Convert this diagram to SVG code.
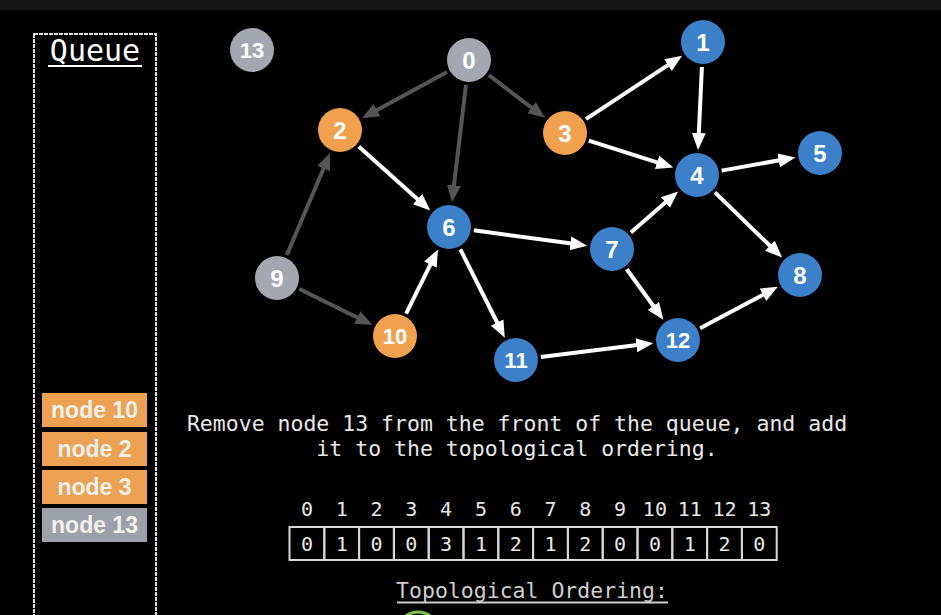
<svg xmlns="http://www.w3.org/2000/svg" width="941" height="615" viewBox="0 0 941 615">
<style>
.bg{fill:#000}
.n circle{stroke:none}
.blue{fill:#3b80c9}
.orange{fill:#f0a04f}
.gray{fill:#a3a8b0}
.nt{font-family:"Liberation Sans",Arial,sans-serif;font-weight:bold;fill:#fff;text-anchor:middle}
.e1{stroke:#fff;stroke-width:4;fill:none}
.e0{stroke:#555;stroke-width:4;fill:none}
.mono{font-family:"DejaVu Sans Mono",monospace;fill:#e8e8e8;text-anchor:middle}
.qi text{font-family:"Liberation Sans",Arial,sans-serif;font-weight:bold;font-size:23px;fill:#f4f0ea;text-anchor:middle}
.cell{fill:none;stroke:#d8d8d8;stroke-width:2}
</style>
<defs>
<marker id="aw" markerUnits="userSpaceOnUse" markerWidth="18" markerHeight="16" refX="5" refY="8" orient="auto"><path d="M0,1 L17,8 L0,15 z" fill="#fff"/></marker>
<marker id="ag" markerUnits="userSpaceOnUse" markerWidth="18" markerHeight="16" refX="5" refY="8" orient="auto"><path d="M0,1 L17,8 L0,15 z" fill="#555"/></marker>
</defs>
<rect class="bg" x="0" y="0" width="941" height="615"/>
<rect x="0" y="0" width="941" height="10" fill="#151515"/>

<g id="queue">
<rect x="34" y="34" width="122" height="600" fill="none" stroke="#e0e0e0" stroke-width="2" stroke-dasharray="4 1"/>
<text class="mono" x="95" y="61" font-size="30" style="fill:#fff">Queue</text>
<line x1="48" y1="66" x2="142" y2="66" stroke="#fff" stroke-width="2"/>
<g class="qi" id="q10"><rect x="42" y="393" width="105" height="34" fill="#eba052"/><text x="94.5" y="418">node 10</text></g>
<g class="qi" id="q2"><rect x="42" y="432" width="105" height="34" fill="#eba052"/><text x="94.5" y="457">node 2</text></g>
<g class="qi" id="q3"><rect x="42" y="470" width="105" height="34" fill="#eba052"/><text x="94.5" y="495">node 3</text></g>
<g class="qi" id="q13"><rect x="42" y="508" width="105" height="34" fill="#9ca1a9"/><text x="94.5" y="533">node 13</text></g>
</g>

<g id="connectors">
<line class="e0" x1="447" y1="71.9" x2="372.5" y2="112.4" marker-end="url(#ag)"/>
<line class="e0" x1="466" y1="84.8" x2="453.4" y2="190.3" marker-end="url(#ag)"/>
<line class="e0" x1="488.9" y1="75.1" x2="535.5" y2="110.6" marker-end="url(#ag)"/>
<line class="e0" x1="286.8" y1="255" x2="325.5" y2="164" marker-end="url(#ag)"/>
<line class="e0" x1="299.4" y1="289" x2="361.8" y2="319.7" marker-end="url(#ag)"/>
<line class="e1" x1="585.9" y1="119.2" x2="672.1" y2="62.4" marker-end="url(#aw)"/>
<line class="e1" x1="588.8" y1="140.6" x2="661.8" y2="163.8" marker-end="url(#aw)"/>
<line class="e1" x1="701.9" y1="67" x2="698.6" y2="138" marker-end="url(#aw)"/>
<line class="e1" x1="721.6" y1="170.6" x2="783.6" y2="159.5" marker-end="url(#aw)"/>
<line class="e1" x1="714.9" y1="192.4" x2="773.5" y2="249.2" marker-end="url(#aw)"/>
<line class="e1" x1="358.7" y1="146.6" x2="421.3" y2="202.4" marker-end="url(#aw)"/>
<line class="e1" x1="406.1" y1="313.6" x2="432.6" y2="260.2" marker-end="url(#aw)"/>
<line class="e1" x1="473.8" y1="230.3" x2="575.3" y2="244.1" marker-end="url(#aw)"/>
<line class="e1" x1="460.3" y1="249.3" x2="499.4" y2="327" marker-end="url(#aw)"/>
<line class="e1" x1="630.9" y1="232.6" x2="669.1" y2="199.3" marker-end="url(#aw)"/>
<line class="e1" x1="626.7" y1="269.3" x2="656.3" y2="310" marker-end="url(#aw)"/>
<line class="e1" x1="540.8" y1="356.9" x2="641.3" y2="344.6" marker-end="url(#aw)"/>
<line class="e1" x1="700.1" y1="328.2" x2="767.3" y2="292.4" marker-end="url(#aw)"/>
</g>

<g id="node13" class="n"><circle class="gray" cx="252" cy="50" r="22"/><text class="nt" x="252" y="58" font-size="22">13</text></g>
<g id="node0" class="n"><circle class="gray" cx="469" cy="60" r="22"/><text class="nt" x="469" y="68.5" font-size="24">0</text></g>
<g id="node1" class="n"><circle class="blue" cx="703" cy="42" r="22"/><text class="nt" x="703" y="50.5" font-size="24">1</text></g>
<g id="node2" class="n"><circle class="orange" cx="340" cy="130" r="22"/><text class="nt" x="340" y="138.5" font-size="24">2</text></g>
<g id="node3" class="n"><circle class="orange" cx="565" cy="133" r="22"/><text class="nt" x="565" y="141.5" font-size="24">3</text></g>
<g id="node4" class="n"><circle class="blue" cx="697" cy="175" r="22"/><text class="nt" x="697" y="183.5" font-size="24">4</text></g>
<g id="node5" class="n"><circle class="blue" cx="820" cy="153" r="22"/><text class="nt" x="820" y="161.5" font-size="24">5</text></g>
<g id="node6" class="n"><circle class="blue" cx="449" cy="227" r="22"/><text class="nt" x="449" y="235.5" font-size="24">6</text></g>
<g id="node7" class="n"><circle class="blue" cx="612" cy="249" r="22"/><text class="nt" x="612" y="257.5" font-size="24">7</text></g>
<g id="node8" class="n"><circle class="blue" cx="800" cy="275" r="22"/><text class="nt" x="800" y="283.5" font-size="24">8</text></g>
<g id="node9" class="n"><circle class="gray" cx="277" cy="278" r="22"/><text class="nt" x="277" y="286.5" font-size="24">9</text></g>
<g id="node10" class="n"><circle class="orange" cx="395" cy="336" r="22"/><text class="nt" x="395" y="344" font-size="22">10</text></g>
<g id="node11" class="n"><circle class="blue" cx="516" cy="360" r="22"/><text class="nt" x="516" y="368" font-size="22">11</text></g>
<g id="node12" class="n"><circle class="blue" cx="678" cy="340" r="22"/><text class="nt" x="678" y="348" font-size="22">12</text></g>

<g id="caption">
<text class="mono" x="517" y="431" font-size="21.5">Remove node 13 from the front of the queue, and add</text>
<text class="mono" x="517" y="456" font-size="21.5">it to the topological ordering.</text>
</g>

<g id="indegree">
<g class="mono" font-size="20">
<text x="306.9" y="516">0</text><text x="341.7" y="516">1</text><text x="376.5" y="516">2</text><text x="411.3" y="516">3</text><text x="446.1" y="516">4</text><text x="480.9" y="516">5</text><text x="515.7" y="516">6</text><text x="550.5" y="516">7</text><text x="585.3" y="516">8</text><text x="620.1" y="516">9</text><text x="654.9" y="516">10</text><text x="689.7" y="516">11</text><text x="724.5" y="516">12</text><text x="759.3" y="516">13</text>
</g>
<g>
<rect class="cell" x="289.5" y="527" width="34.8" height="33"/><rect class="cell" x="324.3" y="527" width="34.8" height="33"/><rect class="cell" x="359.1" y="527" width="34.8" height="33"/><rect class="cell" x="393.9" y="527" width="34.8" height="33"/><rect class="cell" x="428.7" y="527" width="34.8" height="33"/><rect class="cell" x="463.5" y="527" width="34.8" height="33"/><rect class="cell" x="498.3" y="527" width="34.8" height="33"/><rect class="cell" x="533.1" y="527" width="34.8" height="33"/><rect class="cell" x="567.9" y="527" width="34.8" height="33"/><rect class="cell" x="602.7" y="527" width="34.8" height="33"/><rect class="cell" x="637.5" y="527" width="34.8" height="33"/><rect class="cell" x="672.3" y="527" width="34.8" height="33"/><rect class="cell" x="707.1" y="527" width="34.8" height="33"/><rect class="cell" x="741.9" y="527" width="34.8" height="33"/>
</g>
<g class="mono" font-size="20">
<text x="306.9" y="551">0</text><text x="341.7" y="551">1</text><text x="376.5" y="551">0</text><text x="411.3" y="551">0</text><text x="446.1" y="551">3</text><text x="480.9" y="551">1</text><text x="515.7" y="551">2</text><text x="550.5" y="551">1</text><text x="585.3" y="551">2</text><text x="620.1" y="551">0</text><text x="654.9" y="551">0</text><text x="689.7" y="551">1</text><text x="724.5" y="551">2</text><text x="759.3" y="551">0</text>
</g>
</g>

<g id="ordering">
<text class="mono" x="532" y="598" font-size="21.5" style="fill:#cfcfcf">Topological Ordering:</text>
<line x1="397" y1="602.5" x2="668" y2="602.5" stroke="#cfcfcf" stroke-width="2"/>
<circle cx="418" cy="633" r="21" fill="none" stroke="#7cc242" stroke-width="3"/>
</g>
</svg>
